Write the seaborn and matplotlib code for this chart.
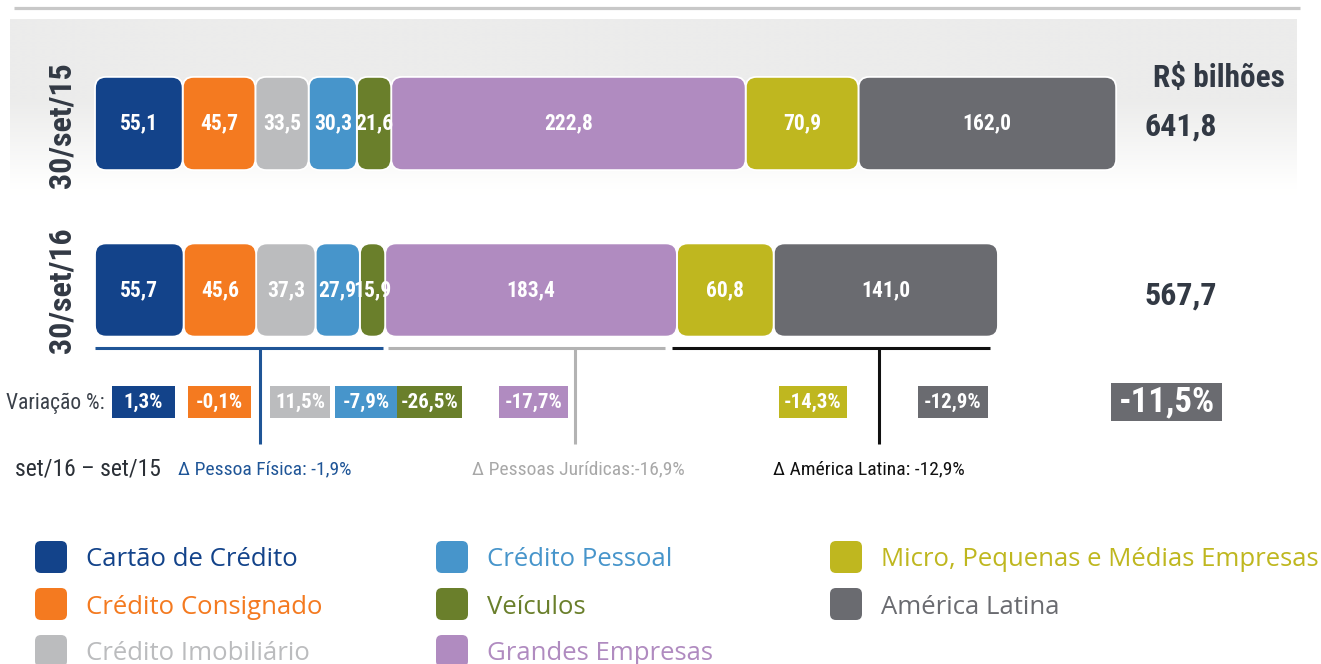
import numpy as np
import pandas as pd
import matplotlib
matplotlib.use("Agg")
import matplotlib.pyplot as plt
import seaborn as sns
from matplotlib.patches import FancyBboxPatch, Rectangle
from matplotlib import font_manager as fm

# ---------------- data ----------------
categories = ["Cartão de Crédito", "Crédito Consignado", "Crédito Imobiliário",
              "Crédito Pessoal", "Veículos", "Grandes Empresas",
              "Micro, Pequenas e Médias Empresas", "América Latina"]
periods = ["30/set/15", "30/set/16"]
values_set15 = [55.1, 45.7, 33.5, 30.3, 21.6, 222.8, 70.9, 162.0]
values_set16 = [55.7, 45.6, 37.3, 27.9, 15.9, 183.4, 60.8, 141.0]
totals = [641.8, 567.7]
variation_pct = [1.3, -0.1, 11.5, -7.9, -26.5, -17.7, -14.3, -12.9]
total_variation_pct = -11.5
group_names = ["Pessoa Física", "Pessoas Jurídicas", "América Latina"]
group_variation = [-1.9, -16.9, -12.9]
unit_label = "R$ bilhões"
variation_label = "Variação %:"
period_label = "set/16 – set/15"

# ---------------- style ----------------
colors = ["#13438a", "#f47a20", "#bbbcbe", "#4795cb", "#6a7f2b",
          "#b08bc0", "#bfb71f", "#6a6b70"]
group_colors = ["#1f5597", "#b3b3b3", "#111111"]
group_text_colors = ["#1f5597", "#a8a8a8", "#111111"]
group_sep = [": ", ":", ": "]
dark = "#323944"

sns.set_theme(style="white")
plt.rcParams["font.family"] = ["DejaVu Sans"]

# pick a condensed / narrow family if one is installed
_entries = fm.fontManager.ttflist
_names = {f.name for f in _entries}
COND = None
for nm in ["Liberation Sans Narrow", "Roboto Condensed", "Open Sans Condensed",
           "Noto Sans Condensed", "Noto Sans SemiCondensed", "DejaVu Sans Condensed"]:
    if nm in _names:
        COND = {"family": [nm, "DejaVu Sans"]}
        break
if COND is None:
    for base in ["Noto Sans", "Roboto", "Open Sans", "DejaVu Sans", "Liberation Sans"]:
        st = [f.stretch for f in _entries if f.name == base and str(f.stretch) in
              ("condensed", "semi-condensed", "extra-condensed", "ultra-condensed")]
        if st:
            COND = {"family": [base, "DejaVu Sans"], "stretch": "condensed"}
            break
SHRINK = 1.0
if COND is None:
    COND = {"family": ["Liberation Sans", "DejaVu Sans"]}
    SHRINK = 0.85
REG = {"family": ["Open Sans", "DejaVu Sans"]}


def fs(v):
    return v * SHRINK


def fmt(v, dec=1):
    return f"{v:.{dec}f}".replace(".", ",")


W, H, DPI = 1321, 664, 100
fig = plt.figure(figsize=(W / DPI, H / DPI), dpi=DPI)

# background / annotation axes in pixel coordinates
bg = fig.add_axes([0, 0, 1, 1], label="bg")
bg.set_zorder(0)

# gradient panel
ys = np.linspace(19, 195, 200)
t = np.clip((ys - 100) / (188 - 100), 0, 1)
shade = (1 - t) * (236 / 255) + t * 1.0
grad = np.stack([shade, shade, shade * 0.998], axis=-1)[:, None, :]
grad = np.repeat(grad, 2, axis=1)
bg.imshow(grad, extent=(10, 1297, 195, 19), aspect="auto", interpolation="bilinear", zorder=0)
bg.plot([14, 1300], [8, 8], color="#c8c8c8", lw=2.3, solid_capstyle="butt", zorder=1)
bg.set_xlim(0, W)
bg.set_ylim(H, 0)
bg.axis("off")

# ---------------- bars (seaborn) ----------------
s = 1021 / totals[0]              # px per data unit
ax = fig.add_axes([0, 0, 1, 1], label="bars")
ax.set_zorder(1)
ax.patch.set_alpha(0)

rows = []
for p, vals in zip(periods, [values_set15, values_set16]):
    cum = np.cumsum(vals)
    for c, v, e in zip(categories, vals, cum):
        rows.append({"period": p, "category": c, "value": v, "end": e, "start": e - v})
df = pd.DataFrame(rows)

bar_h = 0.56
seg_info = []
for i in reversed(range(len(categories))):
    sub = df[df.category == categories[i]]
    n0 = len(ax.patches)
    sns.barplot(data=sub, x="end", y="period", order=periods, orient="h",
                color=colors[i], saturation=1, width=bar_h, errorbar=None, ax=ax)
    for patch, (_, r) in zip(ax.patches[n0:], sub.iterrows()):
        seg_info.append((patch, r, i))

radius_px = 11
rs = radius_px / s
m_aspect = s / 166.5
for patch, r, i in seg_info:
    y0 = patch.get_y()
    hgt = patch.get_height()
    patch.remove()
    fb = FancyBboxPatch((r["start"], y0), r["value"], hgt,
                        boxstyle=f"round,pad=0,rounding_size={rs}",
                        mutation_aspect=m_aspect, facecolor=colors[i],
                        edgecolor="white", lw=1.3, zorder=2)
    ax.add_patch(fb)
    yc = periods.index(r["period"])
    ax.text(r["start"] + r["value"] / 2, yc, fmt(r["value"]), color="white",
            ha="center", va="center", fontsize=fs(15.5), fontweight="bold", zorder=3, **COND)

ax.set_xlim(-95 / s, (W - 95) / s)
ax.set_ylim((H - 123.5) / 166.5, -123.5 / 166.5)
ax.axis("off")

# ---------------- annotations (pixel coords) ----------------
for yc, p in zip([125, 290], periods):
    bg.text(61, yc, p, rotation=90, ha="center", va="center", fontsize=fs(23),
            fontweight="bold", color=dark, **COND)

bg.text(1153, 78, unit_label, ha="left", va="center", fontsize=fs(22.5),
        fontweight="bold", color=dark, **COND)
for yc, tot in zip([127, 296], totals):
    bg.text(1145, yc, fmt(tot), ha="left", va="center", fontsize=fs(23),
            fontweight="bold", color=dark, **COND)

# group brackets
bracket_px = [(95, 383), (388, 665), (672, 990)]
stem_x = [260, 575, 879]
for (x0, x1), sx, col in zip(bracket_px, stem_x, group_colors):
    bg.plot([x0, x1], [348, 348], color=col, lw=2.2, solid_capstyle="butt", zorder=2)
    bg.plot([sx, sx], [348, 444], color=col, lw=2.2, solid_capstyle="butt", zorder=2)

# variation boxes
bg.text(105, 403, variation_label, ha="right", va="center", fontsize=fs(15.5),
        color="#3a4049", **COND)
var_box_px = [(112, 175), (188, 251), (270, 330), (335, 397), (397, 462),
              (499, 568), (779, 847), (918, 988)]
for (x0, x1), v, col in zip(var_box_px, variation_pct, colors):
    bg.add_patch(Rectangle((x0, 386), x1 - x0, 32, facecolor=col, edgecolor="none", zorder=2))
    bg.text((x0 + x1) / 2, 402, fmt(v) + "%", ha="center", va="center", color="white",
            fontsize=fs(15), fontweight="bold", zorder=3, **COND)
bg.add_patch(Rectangle((1111, 383), 111, 38, facecolor=colors[-1], edgecolor="none", zorder=2))
bg.text(1166.5, 402, fmt(total_variation_pct) + "%", ha="center", va="center", color="white",
        fontsize=fs(25), fontweight="bold", zorder=3, **COND)

# group labels
bg.text(15, 469, period_label, ha="left", va="center", fontsize=fs(17), color="#2a2f36", **COND)
for x, name, sep, v, col in zip([178, 472, 773], group_names, group_sep,
                                group_variation, group_text_colors):
    bg.text(x, 469, f"Δ {name}{sep}{fmt(v)}%", ha="left", va="center", fontsize=fs(14),
            color=col, **COND)

# legend
col_sq_x = [35, 436, 830]
row_y = [557, 604, 651]
for i, (cat, col) in enumerate(zip(categories, colors)):
    cx, ry = col_sq_x[i // 3], row_y[i % 3]
    bg.add_patch(FancyBboxPatch((cx, ry - 16), 32, 32, boxstyle="round,pad=0,rounding_size=6",
                                facecolor=col, edgecolor="none", zorder=2))
    bg.text(cx + 51, ry + 3, cat, ha="left", va="center", fontsize=18.5, color=col, **REG)

fig.savefig("out.png", dpi=DPI)
